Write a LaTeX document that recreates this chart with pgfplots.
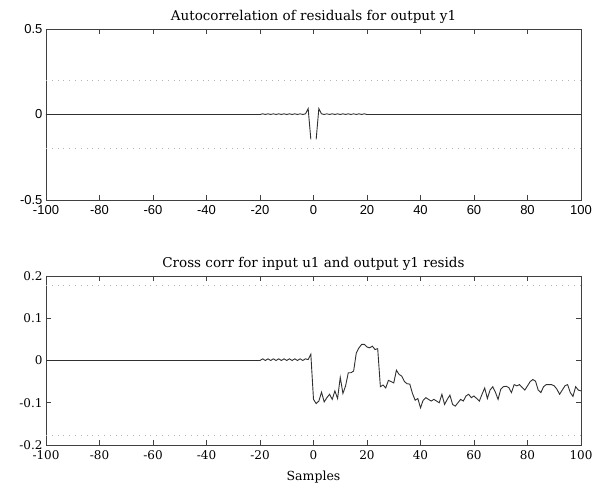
\documentclass[border=0pt]{standalone}
\usepackage{fontspec}
\setmainfont{DejaVu Serif}
\newfontfamily\arialfont{Liberation Sans}
\newfontfamily\serfont{DejaVu Serif}
\usepackage{pgfplots}
\pgfplotsset{compat=1.18}
\definecolor{ln}{HTML}{303030}
\definecolor{ax}{HTML}{404040}
\definecolor{dot}{HTML}{B4B4B4}
\begin{document}
\begin{tikzpicture}
\path[use as bounding box] (0,0) rectangle (595pt,492pt);
\pgfplotsset{
  common/.style={
    scale only axis, width=535pt,
    xmin=-100, xmax=100,
    xtick={-100,-80,-60,-40,-20,0,20,40,60,80,100},
    tick align=inside, major tick length=5pt,
    axis line style={draw=ax, line width=0.9pt},
    tick style={draw=ax, line width=0.8pt},
    title style={font=\serfont\fontsize{13.5}{15}\selectfont, yshift=-4pt},
    clip=true,
  }
}
% ---------- top axis ----------
\begin{axis}[common,
  at={(46pt,292pt)}, anchor=south west, height=171pt,
  ymin=-0.5, ymax=0.5, ytick={-0.5,0,0.5},
  yticklabels={-0.5,0,0.5},
  xticklabels={-100,-80,-60,-40,-20,0,20,40,60,80,100},
  ticklabel style={font=\arialfont\fontsize{13}{15}\selectfont},
  xticklabel style={yshift=-2pt},
  title={Autocorrelation of residuals for output y1},
  unbounded coords=jump]
\addplot[dot, line width=0.8pt, dash pattern=on 0.8pt off 5pt, forget plot] coordinates {(-100,0.197) (100,0.197)};
\addplot[dot, line width=0.8pt, dash pattern=on 0.8pt off 5pt, forget plot] coordinates {(-100,-0.197) (100,-0.197)};
\addplot[ln, line width=0.9pt] coordinates {
(-100,0) (-20,0) (-19,0.004) (-18,0) (-17,0.004) (-16,0) (-15,0.004) (-14,0) (-13,0.004) (-12,0) (-11,0.004) (-10,0) (-9,0.004) (-8,0) (-7,0.004) (-6,0) (-5,0.004) (-4,0) (-3,0.004) (-2,0.035) (-1,-0.145)
(0,nan)
(1,-0.145) (2,0.035) (3,0.004) (4,0) (5,0.004) (6,0) (7,0.004) (8,0) (9,0.004) (10,0) (11,0.004) (12,0) (13,0.004) (14,0) (15,0.004) (16,0) (17,0.004) (18,0) (19,0.004) (20,0) (100,0)
};
\end{axis}
% ---------- bottom axis ----------
\begin{axis}[common,
  at={(46pt,47pt)}, anchor=south west, height=169pt,
  ymin=-0.2, ymax=0.2, ytick={-0.2,-0.1,0,0.1,0.2},
  yticklabels={-0.2,-0.1,0,0.1,0.2},
  xticklabels={-100,-80,-60,-40,-20,0,20,40,60,80,100},
  ticklabel style={font=\serfont\fontsize{12}{14}\selectfont},
  xticklabel style={yshift=-2pt},
  title={Cross corr for input u1 and output y1 resids},
  xlabel={Samples},
  xlabel style={font=\serfont\fontsize{12.5}{14}\selectfont, yshift=-5pt}]
\addplot[dot, line width=0.8pt, dash pattern=on 0.8pt off 5pt, forget plot] coordinates {(-100,0.177) (100,0.177)};
\addplot[dot, line width=0.8pt, dash pattern=on 0.8pt off 5pt, forget plot] coordinates {(-100,-0.177) (100,-0.177)};
\addplot[ln, line width=0.9pt] coordinates {
(-100,0) (-20,0) (-19,0.004) (-18,0) (-17,0.004) (-16,0) (-15,0.004) (-14,0) (-13,0.004) (-12,0) (-11,0.004) (-10,0) (-9,0.004) (-8,0) (-7,0.004) (-6,0) (-5,0.004) (-4,0) (-3,0.004) (-2,0.002) (-1,0.015)
(0,-0.092) (1,-0.102) (2,-0.096) (3,-0.075) (4,-0.098) (5,-0.088) (6,-0.080) (7,-0.092) (8,-0.072) (9,-0.090)
(10,-0.040) (11,-0.078) (12,-0.060) (13,-0.029) (14,-0.029) (15,-0.025) (16,0.018) (17,0.030) (18,0.038) (19,0.038)
(20,0.032) (21,0.030) (22,0.034) (23,0.026) (24,0.028) (25,-0.062) (26,-0.058) (27,-0.065) (28,-0.047) (29,-0.050)
(30,-0.053) (31,-0.023) (32,-0.033) (33,-0.037) (34,-0.050) (35,-0.055) (36,-0.056) (37,-0.078) (38,-0.094) (39,-0.090)
(40,-0.112) (41,-0.094) (42,-0.088) (43,-0.092) (44,-0.096) (45,-0.092) (46,-0.096) (47,-0.100) (48,-0.080) (49,-0.104)
(50,-0.092) (51,-0.082) (52,-0.104) (53,-0.108) (54,-0.100) (55,-0.092) (56,-0.096) (57,-0.084) (58,-0.080) (59,-0.088)
(60,-0.084) (61,-0.090) (62,-0.096) (63,-0.080) (64,-0.065) (65,-0.090) (66,-0.070) (67,-0.062) (68,-0.075) (69,-0.092)
(70,-0.068) (71,-0.062) (72,-0.061) (73,-0.064) (74,-0.076) (75,-0.057) (76,-0.060) (77,-0.057) (78,-0.064) (79,-0.070)
(80,-0.060) (81,-0.050) (82,-0.045) (83,-0.049) (84,-0.070) (85,-0.076) (86,-0.062) (87,-0.057) (88,-0.057) (89,-0.057)
(90,-0.060) (91,-0.068) (92,-0.080) (93,-0.070) (94,-0.060) (95,-0.057) (96,-0.076) (97,-0.085) (98,-0.062) (99,-0.070)
(100,-0.072)
};
\end{axis}
\end{tikzpicture}
\end{document}
